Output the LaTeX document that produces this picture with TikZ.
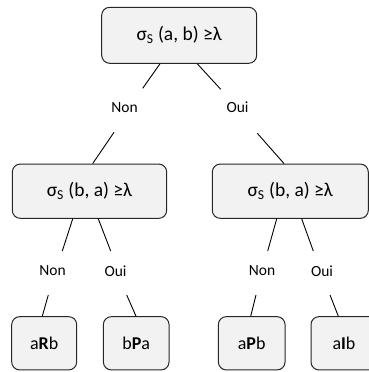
\documentclass[tikz,border=0pt]{standalone}
\usepackage{fontspec}
\setmainfont{Carlito}
\begin{document}
\begin{tikzpicture}[x=1pt,y=1pt,
  box/.style={draw=black!85,line width=1pt,fill=black!5,rounded corners=8pt,inner sep=0pt,font=\fontsize{19.5}{22}\selectfont},
  leaf/.style={box,font=\fontsize{18}{21}\selectfont},
  lbl/.style={inner sep=0pt,font=\fontsize{15.5}{18}\selectfont},
  conn/.style={line width=0.9pt}]
\useasboundingbox (0,0) rectangle (369,372);
\clip (0,0) rectangle (369,372);
\node[box,minimum width=155pt,minimum height=56pt] (top) at (179.2,336.7) {σ\textsubscript{S} (a, b) ≥λ};
\node[box,minimum width=154.4pt,minimum height=54.3pt] (midL) at (89.5,180.8) {σ\textsubscript{S} (b, a) ≥λ};
\node[box,minimum width=156pt,minimum height=54.3pt] (midR) at (290.3,180.8) {σ\textsubscript{S} (b, a) ≥λ};
\node[leaf,minimum width=65pt,minimum height=53.3pt] (aRb) at (44.2,28.7) {a\textbf{R}b};
\node[leaf,minimum width=65.7pt,minimum height=53.3pt] (bPa) at (136.2,28.7) {b\textbf{P}a};
\node[leaf,minimum width=66.7pt,minimum height=53.3pt] (aPb) at (251.7,28.7) {a\textbf{P}b};
\node[leaf,minimum width=66pt,minimum height=53.3pt] (aIb) at (344,28.7) {a\textbf{I}b};
\node[lbl] (non1) at (124.5,264.5) {Non};
\node[lbl] (oui1) at (237.5,264.5) {Oui};
\node[lbl] (non2) at (52.5,101) {Non};
\node[lbl] (oui2) at (115.5,101) {Oui};
\node[lbl] (non3) at (262,101) {Non};
\node[lbl] (oui3) at (322,101) {Oui};
\draw[conn] ([xshift=-19.2pt]top.south) -- ([shift={(18.2pt,19.2pt)}]non1.center);
\draw[conn] ([xshift=18.1pt]top.south) -- ([shift={(-16.8pt,18.2pt)}]oui1.center);
\draw[conn] ([shift={(-10.5pt,-24.8pt)}]non1.center) -- ([xshift=3.2pt]midL.north);
\draw[conn] ([shift={(19.8pt,-25.8pt)}]oui1.center) -- ([xshift=-6.3pt]midR.north);
\draw[conn] ([xshift=-16.8pt]midL.south) -- ([shift={(9.8pt,20pt)}]non2.center);
\draw[conn] ([xshift=8.8pt]midL.south) -- ([shift={(-4.8pt,20pt)}]oui2.center);
\draw[conn] ([xshift=-13.6pt]midR.south) -- ([shift={(5.7pt,20pt)}]non3.center);
\draw[conn] ([xshift=11.4pt]midR.south) -- ([shift={(-8.7pt,20pt)}]oui3.center);
\draw[conn] ([shift={(-4.2pt,-24pt)}]non2.center) -- ([xshift=-1.9pt]aRb.north);
\draw[conn] ([shift={(11.2pt,-24pt)}]oui2.center) -- ([xshift=-0.2pt]bPa.north);
\draw[conn] ([shift={(-6pt,-24pt)}]non3.center) -- ([xshift=-1pt]aPb.north);
\draw[conn] ([shift={(8pt,-24pt)}]oui3.center) -- ([xshift=-5.7pt]aIb.north);
\end{tikzpicture}
\end{document}
